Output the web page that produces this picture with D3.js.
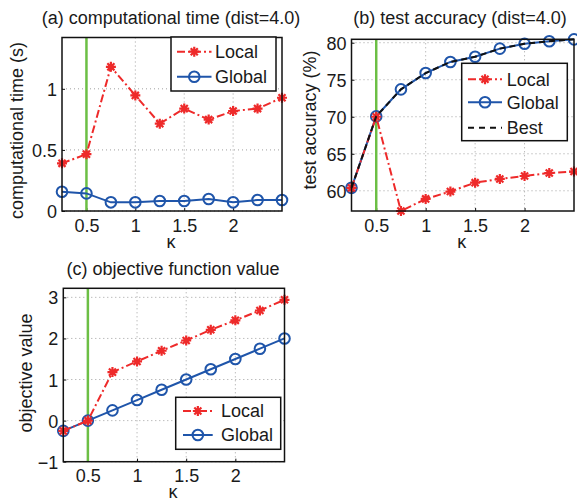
<!DOCTYPE html>
<html>
<head>
<meta charset="utf-8">
<script src="https://cdn.jsdelivr.net/npm/d3@7"></script>
<style>
  html, body { margin: 0; padding: 0; background: #fff; }
  svg { display: block; }
  text { font-family: "Liberation Sans", Arial, Helvetica, sans-serif; fill: #1a1a1a; }
</style>
</head>
<body>
<svg id="chart" width="577" height="499"></svg>
<script>
// ---------------- data ----------------
const kappa = [0.25, 0.5, 0.75, 1.0, 1.25, 1.5, 1.75, 2.0, 2.25, 2.5];
const xTicks = [0.5, 1, 1.5, 2];
const xTickLabels = ["0.5", "1", "1.5", "2"];
const markedKappa = 0.5;

const timeLocal  = [0.39, 0.465, 1.18, 0.946, 0.715, 0.838, 0.748, 0.818, 0.838, 0.927];
const timeGlobal = [0.157, 0.144, 0.071, 0.071, 0.082, 0.082, 0.098, 0.071, 0.09, 0.09];
const timeTicks = [0, 0.5, 1];
const timeTickLabels = ["0", "0.5", "1"];

const accLocal  = [60.4, 70.0, 57.27, 58.9, 59.9, 61.1, 61.6, 62.0, 62.4, 62.6];
const accGlobal = [60.4, 70.05, 73.7, 75.9, 77.4, 78.1, 79.2, 79.85, 80.2, 80.45];
const accBest   = [60.4, 70.05, 73.7, 75.9, 77.4, 78.1, 79.2, 79.85, 80.2, 80.45];
const accTicks = [60, 65, 70, 75, 80];
const accTickLabels = ["60", "65", "70", "75", "80"];

const objLocal  = [-0.25, 0.0, 1.18, 1.44, 1.70, 1.95, 2.21, 2.44, 2.68, 2.94];
const objGlobal = [-0.25, 0.0, 0.25, 0.5, 0.75, 1.0, 1.25, 1.5, 1.75, 2.0];
const objTicks = [-1, 0, 1, 2, 3];
const objTickLabels = ["\u22121", "0", "1", "2", "3"];

const titles = ["(a) computational time (dist=4.0)", "(b) test accuracy (dist=4.0)", "(c) objective function value"];
const yLabels = ["computational time (s)", "test accuracy (%)", "objective value"];
const xLabel = "\u03ba";
const seriesNames = ["Local", "Global", "Best"];

// ---------------- style ----------------
const RED = "#ee2a2a", BLUE = "#1f55aa", GREEN = "#6cbf45", BLACK = "#111";
const FS = 18;

const svg = d3.select("#chart");

function starPath(cx, cy, r) {
  const d = r * 0.7071;
  return `M${cx - r},${cy}L${cx + r},${cy}M${cx},${cy - r}L${cx},${cy + r}` +
         `M${cx - d},${cy - d}L${cx + d},${cy + d}M${cx - d},${cy + d}L${cx + d},${cy - d}`;
}

function drawPanel(cfg) {
  const g = svg.append("g");
  const x = d3.scaleLinear().domain([0.25, 2.5]).range([cfg.left, cfg.right]);
  const y = d3.scaleLinear().domain(cfg.yDomain).range([cfg.bottom, cfg.top]);

  // grid
  g.append("g").selectAll("line").data(xTicks).join("line")
    .attr("x1", d => x(d)).attr("x2", d => x(d))
    .attr("y1", cfg.top).attr("y2", cfg.bottom)
    .attr("stroke", "#a0a0a0").attr("stroke-width", 1).attr("stroke-dasharray", "1,3");
  g.append("g").selectAll("line").data(cfg.yTicks).join("line")
    .attr("x1", cfg.left).attr("x2", cfg.right)
    .attr("y1", d => y(d)).attr("y2", d => y(d))
    .attr("stroke", "#a0a0a0").attr("stroke-width", 1).attr("stroke-dasharray", "1,3");

  // axes via d3 axes (inward ticks)
  const xAxis = d3.axisBottom(x).tickValues(xTicks).tickFormat((d, i) => xTickLabels[i]).tickSizeInner(-3).tickSizeOuter(0);
  const gx = g.append("g").attr("transform", `translate(0,${cfg.bottom})`).call(xAxis);
  const yAxis = d3.axisLeft(y).tickValues(cfg.yTicks).tickFormat((d, i) => cfg.yTickLabels[i]).tickSizeInner(-3).tickSizeOuter(0);
  const gy = g.append("g").attr("transform", `translate(${cfg.left},0)`).call(yAxis);
  [gx, gy].forEach(a => {
    a.select(".domain").remove();
    a.selectAll(".tick line").attr("stroke", "#111").attr("stroke-width", 1);
    a.selectAll(".tick text").style("font-size", FS + "px")
      .style("font-family", '"Liberation Sans", Arial, sans-serif').attr("fill", "#1a1a1a");
  });
  gx.selectAll(".tick text").attr("y", 20.5).attr("dy", null);
  gy.selectAll(".tick text").attr("x", -5).attr("dy", "0.36em");

  // green vertical marker line
  g.append("line")
    .attr("x1", x(markedKappa)).attr("x2", x(markedKappa))
    .attr("y1", cfg.top).attr("y2", cfg.bottom)
    .attr("stroke", GREEN).attr("stroke-width", 2.5);

  const line = d3.line().x((d, i) => x(kappa[i])).y(d => y(d));
  const plot = g.append("g");

  // Global (blue solid, circles)
  plot.append("path").datum(cfg.global).attr("d", line)
    .attr("fill", "none").attr("stroke", BLUE).attr("stroke-width", 2);
  plot.append("g").selectAll("circle").data(cfg.global).join("circle")
    .attr("cx", (d, i) => x(kappa[i])).attr("cy", d => y(d)).attr("r", 5.3)
    .attr("fill", "none").attr("stroke", BLUE).attr("stroke-width", 2);

  // Local (red dash-dot, stars)
  plot.append("path").datum(cfg.local).attr("d", line)
    .attr("fill", "none").attr("stroke", RED).attr("stroke-width", 2)
    .attr("stroke-dasharray", "8,3,2,3");
  plot.append("g").selectAll("path").data(cfg.local).join("path")
    .attr("d", (d, i) => starPath(x(kappa[i]), y(d), 5))
    .attr("stroke", RED).attr("stroke-width", 2.2).attr("fill", "none");

  // Best (black dashed)
  if (cfg.best) {
    plot.append("path").datum(cfg.best).attr("d", line)
      .attr("fill", "none").attr("stroke", BLACK).attr("stroke-width", 2)
      .attr("stroke-dasharray", "6,4");
  }

  // axes box
  g.append("rect").attr("x", cfg.left).attr("y", cfg.top)
    .attr("width", cfg.right - cfg.left).attr("height", cfg.bottom - cfg.top)
    .attr("fill", "none").attr("stroke", "#111").attr("stroke-width", 1.5);

  // title
  g.append("text").attr("x", cfg.titleX).attr("y", cfg.titleY).attr("text-anchor", "middle")
    .style("font-size", FS + "px").text(cfg.title);
  // y label
  g.append("text").attr("transform", `translate(${cfg.ylabX},${cfg.ylabY}) rotate(-90)`)
    .attr("text-anchor", "middle").style("font-size", FS + "px").text(cfg.ylabel);
  // x label
  g.append("text").attr("x", (cfg.left + cfg.right) / 2 - 1).attr("y", cfg.bottom + cfg.xlabGap)
    .attr("text-anchor", "middle").style("font-size", FS + "px").text(xLabel);

  // legend
  const L = cfg.legend;
  const lg = g.append("g");
  lg.append("rect").attr("x", L.x0).attr("y", L.y0).attr("width", L.x1 - L.x0).attr("height", L.y1 - L.y0)
    .attr("fill", "#fff").attr("stroke", "#111").attr("stroke-width", 1.5);
  const entries = cfg.best ? [0, 1, 2] : [0, 1];
  entries.forEach((k, j) => {
    const yy = L.rows[j];
    const mx = (L.sx0 + L.sx1) / 2;
    if (k === 0) {
      lg.append("line").attr("x1", L.sx0).attr("x2", L.sx1).attr("y1", yy).attr("y2", yy)
        .attr("stroke", RED).attr("stroke-width", 2).attr("stroke-dasharray", "8,3,2,3");
      lg.append("path").attr("d", starPath(mx, yy, 5)).attr("stroke", RED).attr("stroke-width", 2.2);
    } else if (k === 1) {
      lg.append("line").attr("x1", L.sx0).attr("x2", L.sx1).attr("y1", yy).attr("y2", yy)
        .attr("stroke", BLUE).attr("stroke-width", 2);
      lg.append("circle").attr("cx", mx).attr("cy", yy).attr("r", 5.3)
        .attr("fill", "none").attr("stroke", BLUE).attr("stroke-width", 2);
    } else {
      lg.append("line").attr("x1", L.sx0).attr("x2", L.sx1).attr("y1", yy).attr("y2", yy)
        .attr("stroke", BLACK).attr("stroke-width", 2).attr("stroke-dasharray", "6,5");
    }
    lg.append("text").attr("x", L.tx).attr("y", yy).attr("dy", "0.36em")
      .style("font-size", FS + "px").text(seriesNames[k]);
  });
}

drawPanel({
  id: "a", left: 62, right: 282, top: 37.5, bottom: 211, yDomain: [0, 1.42],
  yTicks: timeTicks, yTickLabels: timeTickLabels, local: timeLocal, global: timeGlobal,
  title: titles[0], titleX: 171, titleY: 23.5, ylabel: yLabels[0], ylabX: 23, ylabY: 130.5, xlabGap: 37,
  legend: { x0: 171, x1: 276, y0: 37, y1: 91, rows: [51.7, 76.7], sx0: 177, sx1: 211.5, tx: 215 }
});
drawPanel({
  id: "b", left: 351.5, right: 574, top: 39.3, bottom: 211, yDomain: [57.27, 80.46],
  yTicks: accTicks, yTickLabels: accTickLabels, local: accLocal, global: accGlobal, best: accBest,
  title: titles[1], titleX: 460, titleY: 23.5, ylabel: yLabels[1], ylabX: 315.5, ylabY: 120, xlabGap: 37,
  legend: { x0: 461.7, x1: 567.3, y0: 63.3, y1: 140.7, rows: [79.3, 102.3, 127.7], sx0: 468, sx1: 502, tx: 506.7 }
});
drawPanel({
  id: "c", left: 63.3, right: 284.5, top: 288.3, bottom: 461.7, yDomain: [-1, 3.22],
  yTicks: objTicks, yTickLabels: objTickLabels, local: objLocal, global: objGlobal,
  title: titles[2], titleX: 173, titleY: 275, ylabel: yLabels[2], ylabX: 32, ylabY: 373, xlabGap: 36,
  legend: { x0: 175.7, x1: 280.7, y0: 397.3, y1: 449.3, rows: [411, 435], sx0: 183, sx1: 212.7, tx: 221 }
});
</script>
</body>
</html>
